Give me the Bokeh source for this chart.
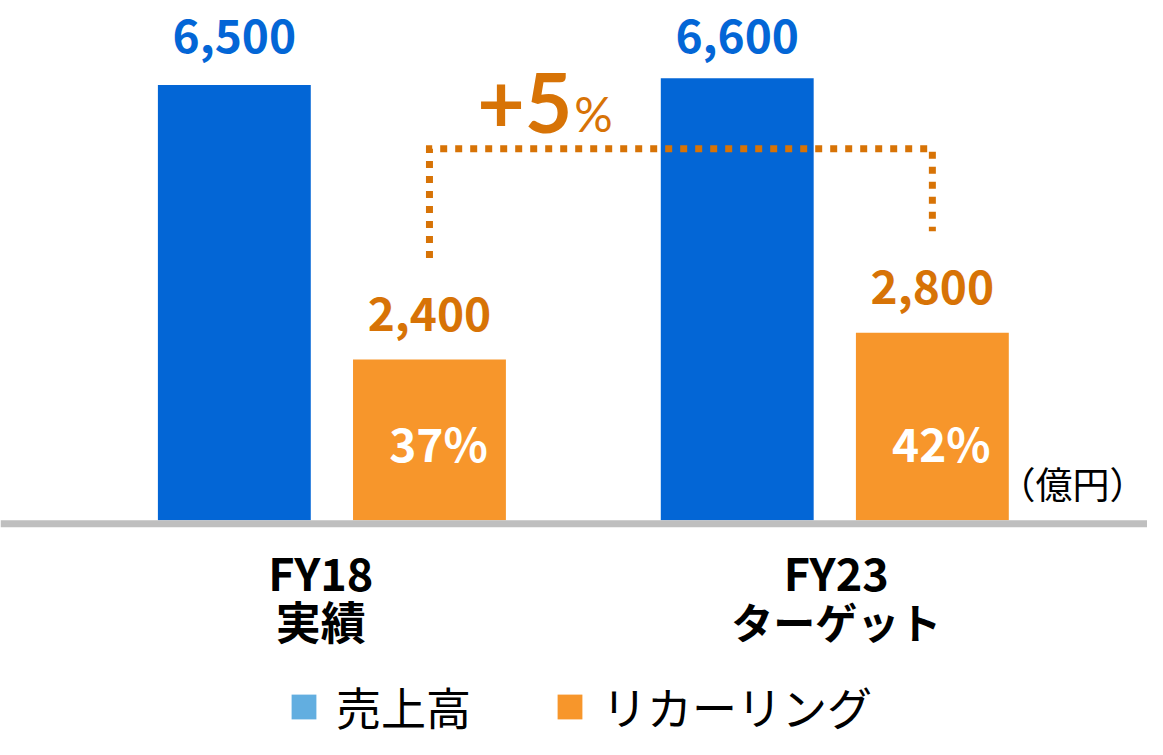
from bokeh.plotting import figure
from bokeh.models import Range1d, Span, Label, Legend, LegendItem, ColumnDataSource
from bokeh.core.properties import value
from bokeh.embed import file_html
from bokeh.resources import INLINE

# ---------------- data ----------------
categories_top = ["FY18", "FY23"]
categories_bottom = ["実績", "ターゲット"]
series_names = ["売上高", "リカーリング"]
sales = [6500, 6600]
recurring = [2400, 2800]
shares = [37, 42]
unit_label = "（億円）"

# ---------------- style ----------------
BLUE = "#0366D6"
ORANGE = "#F7962B"
ORANGE_TXT = "#D77306"
LEG_BLUE = "#62AEE0"
GREY = "#BFBFBF"
JP = value("Noto Sans CJK JP")
LATO = value("Lato")

W, H = 1147, 739
PX_PER_X = 502.9
X0 = -331.4 / PX_PER_X
X1 = X0 + W / PX_PER_X
Y_UPP = 14.936            # data units per pixel
BASE_PX = 519.7           # baseline distance from top of frame
Y0, Y1 = -(H - BASE_PX) * Y_UPP, BASE_PX * Y_UPP

DODGE = 0.194
BAR_W = 0.304

idx = list(range(len(categories_top)))
bx = [i - DODGE for i in idx]
ox = [i + DODGE for i in idx]
cat_shift = [-0.022, 0.003]
cx = [i + s for i, s in zip(idx, cat_shift)]

src = ColumnDataSource(dict(
    bx=bx, ox=ox, cx=cx,
    sales=sales, rec=recurring,
    sales_lbl=[f"{v:,}" for v in sales],
    rec_lbl=[f"{v:,}" for v in recurring],
    share_lbl=[f"{v}%" for v in shares],
    top=categories_top, bottom=categories_bottom,
    bottom_size=["45px", "42px"],
))

p = figure(width=W, height=H, x_range=Range1d(X0, X1), y_range=Range1d(Y0, Y1),
           output_backend="svg", toolbar_location=None, min_border=0,
           x_axis_location=None, y_axis_location=None)
p.grid.visible = False
p.outline_line_color = None
p.background_fill_color = "white"
p.border_fill_color = "white"

# bars
p.vbar(x="bx", top="sales", bottom=0, width=BAR_W, fill_color=BLUE, line_color=None, source=src)
p.vbar(x="ox", top="rec", bottom=0, width=BAR_W, fill_color=ORANGE, line_color=None, source=src)

# baseline
p.add_layout(Span(location=-3.5 * Y_UPP, dimension="width", line_color=GREY, line_width=7))

# value labels (sales labels aligned on one line above the tallest bar)
p.text(x="bx", y=max(sales), text="sales_lbl", source=src, text_align="center",
       text_baseline="alphabetic", y_offset=-42, text_font=JP, text_font_style="bold",
       text_font_size="46px", text_color=BLUE)
p.text(x="ox", y="rec", text="rec_lbl", source=src, text_align="center",
       text_baseline="alphabetic", y_offset=-46, text_font=JP, text_font_style="bold",
       text_font_size="46px", text_color=ORANGE_TXT)
p.text(x="ox", y=0, text="share_lbl", source=src, text_align="center",
       text_baseline="alphabetic", x_offset=9, y_offset=-78, text_font=JP,
       text_font_style="bold", text_font_size="46px", text_color="white")

# category labels
p.text(x="cx", y=0, text="top", source=src, text_align="center", text_baseline="alphabetic",
       y_offset=51, text_font=JP, text_font_style="bold", text_font_size="45px", text_color="black")
p.text(x="cx", y=0, text="bottom", source=src, text_align="center", text_baseline="alphabetic",
       y_offset=100, text_font=JP, text_font_style="bold", text_font_size="bottom_size",
       text_color="black")

# growth bracket
GAP = 1515
BR_TOP = 5547
p.line(x=[ox[0], ox[0], ox[1], ox[1]],
       y=[recurring[0] + GAP, BR_TOP, BR_TOP, recurring[1] + GAP],
       line_color=ORANGE_TXT, line_width=7, line_dash="7 8", line_cap="butt", line_join="miter")

growth = shares[1] - shares[0]
gx = ox[0] + 0.284
p.text(x=[gx], y=[BR_TOP + 46 * Y_UPP], text=[f"+{growth}"], text_align="right",
       text_baseline="alphabetic", text_font=LATO, text_font_style="bold",
       text_font_size="82px", text_color=ORANGE_TXT)
p.text(x=[gx], y=[BR_TOP + 35 * Y_UPP], text=["%"], text_align="left", text_baseline="alphabetic",
       x_offset=2, text_font=LATO, text_font_style="normal", text_font_size="48px",
       text_color=ORANGE_TXT)

# unit
p.add_layout(Label(x=1146, y=257, x_units="screen", y_units="screen", text=unit_label,
                   text_align="right", text_font="Noto Sans CJK JP", text_font_size="37px",
                   text_baseline="alphabetic", text_color="black"))

# legend (swatch colours differ from the bars)
r1 = p.vbar(x=[0], top=[0], bottom=0, width=0.001, fill_color=LEG_BLUE, line_color=None)
r2 = p.vbar(x=[0], top=[0], bottom=0, width=0.001, fill_color=ORANGE, line_color=None)
legend = Legend(items=[LegendItem(label=series_names[0], renderers=[r1]),
                       LegendItem(label=series_names[1], renderers=[r2])],
                orientation="horizontal", location=(288, 0),
                glyph_width=31, glyph_height=31, label_standoff=17, spacing=83,
                padding=0, margin=0, border_line_color=None, background_fill_alpha=0,
                label_text_font="Noto Sans CJK JP", label_text_font_size="45px",
                label_text_color="black")
p.add_layout(legend, "center")

open("out.html", "w").write(file_html(p, INLINE))
